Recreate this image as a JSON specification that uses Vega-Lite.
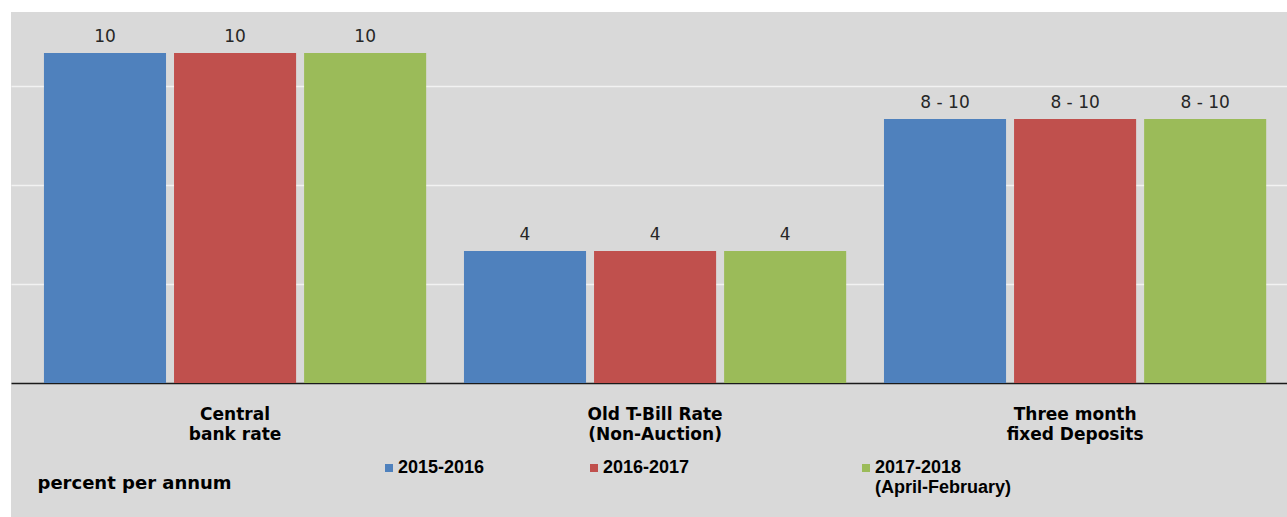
{
  "$schema": "https://vega.github.io/schema/vega-lite/v6.json",
  "width": 1276,
  "height": 505,
  "autosize": {"type": "none"},
  "padding": {"left": 11, "top": 12, "right": 0, "bottom": 0},
  "background": "#ffffff",
  "config": {
    "view": {"fill": "#d9d9d9", "stroke": null},
    "font": "DejaVu Sans",
    "legend": {
      "orient": "none",
      "direction": "horizontal",
      "symbolType": "square",
      "symbolSize": 64,
      "symbolStrokeWidth": 0,
      "labelFont": "Liberation Sans",
      "labelFontSize": 18,
      "labelFontWeight": "bold",
      "labelColor": "#000000",
      "labelOffset": 0,
      "labelLimit": 0,
      "columnPadding": 100,
      "title": null
    }
  },
  "data": {
    "values": [
      {"category": "Central bank rate", "series": "2015-2016", "value": 10, "label": "10"},
      {"category": "Central bank rate", "series": "2016-2017", "value": 10, "label": "10"},
      {"category": "Central bank rate", "series": "2017-2018 (April-February)", "value": 10, "label": "10"},
      {"category": "Old T-Bill Rate (Non-Auction)", "series": "2015-2016", "value": 4, "label": "4"},
      {"category": "Old T-Bill Rate (Non-Auction)", "series": "2016-2017", "value": 4, "label": "4"},
      {"category": "Old T-Bill Rate (Non-Auction)", "series": "2017-2018 (April-February)", "value": 4, "label": "4"},
      {"category": "Three month fixed Deposits", "series": "2015-2016", "value": 8, "label": "8 - 10"},
      {"category": "Three month fixed Deposits", "series": "2016-2017", "value": 8, "label": "8 - 10"},
      {"category": "Three month fixed Deposits", "series": "2017-2018 (April-February)", "value": 8, "label": "8 - 10"}
    ]
  },
  "encoding": {
    "x": {
      "field": "category",
      "type": "nominal",
      "sort": ["Central bank rate", "Old T-Bill Rate (Non-Auction)", "Three month fixed Deposits"],
      "scale": {"paddingInner": 0.09, "paddingOuter": 0.064, "align": 0.613},
      "axis": {
        "orient": "bottom",
        "offset": -134,
        "domain": true,
        "domainColor": "#1a1a1a",
        "domainWidth": 1.5,
        "ticks": false,
        "tickSize": 0,
        "grid": false,
        "labelAngle": 0,
        "labelFont": "DejaVu Sans",
        "labelFontSize": 17,
        "labelFontWeight": "bold",
        "labelColor": "#000000",
        "labelBaseline": "top",
        "labelPadding": 23,
        "labelLineHeight": 20,
        "labelLimit": 0,
        "labelExpr": "datum.label == 'Central bank rate' ? ['Central', 'bank rate'] : datum.label == 'Old T-Bill Rate (Non-Auction)' ? ['Old T-Bill Rate', '(Non-Auction)'] : ['Three month', 'fixed Deposits']",
        "title": "percent per annum",
        "titleX": 26,
        "titleY": 105,
        "titleAlign": "left",
        "titleAnchor": "start",
        "titleBaseline": "alphabetic",
        "titleFont": "DejaVu Sans",
        "titleFontSize": 18,
        "titleFontWeight": "bold",
        "titleColor": "#000000"
      }
    },
    "xOffset": {
      "field": "series",
      "type": "nominal",
      "sort": ["2015-2016", "2016-2017", "2017-2018 (April-February)"],
      "scale": {"domain": ["2015-2016", "2016-2017", "2017-2018 (April-February)"], "paddingInner": 0.0615, "paddingOuter": 0}
    },
    "y": {
      "field": "value",
      "type": "quantitative",
      "scale": {"domain": [-4.0606, 11.2424], "nice": false, "zero": false},
      "axis": {
        "values": [3, 6, 9],
        "grid": true,
        "gridColor": "#f2f2f2",
        "gridWidth": 1.5,
        "labels": false,
        "ticks": false,
        "domain": false,
        "title": null
      }
    }
  },
  "layer": [
    {
      "transform": [{"filter": "datum.series != '2017-2018 (April-February)'"}],
      "mark": {"type": "bar"},
      "encoding": {
        "color": {
          "field": "series",
          "type": "nominal",
          "scale": {"domain": ["2015-2016", "2016-2017"], "range": ["#4f81bd", "#c0504d"]},
          "legend": {"legendX": 369, "legendY": 447}
        }
      }
    },
    {
      "transform": [{"filter": "datum.series == '2017-2018 (April-February)'"}],
      "mark": {"type": "bar"},
      "encoding": {
        "color": {
          "field": "series",
          "type": "nominal",
          "scale": {"domain": ["2017-2018 (April-February)"], "range": ["#9bbb59"]},
          "legend": {"legendX": 846, "legendY": 447, "labelExpr": "split(datum.label, ' ')"}
        }
      }
    },
    {
      "mark": {"type": "text", "baseline": "alphabetic", "dy": -11, "fontSize": 17, "font": "DejaVu Sans", "color": "#262626"},
      "encoding": {"text": {"field": "label"}}
    }
  ],
  "resolve": {"scale": {"color": "independent"}}
}
